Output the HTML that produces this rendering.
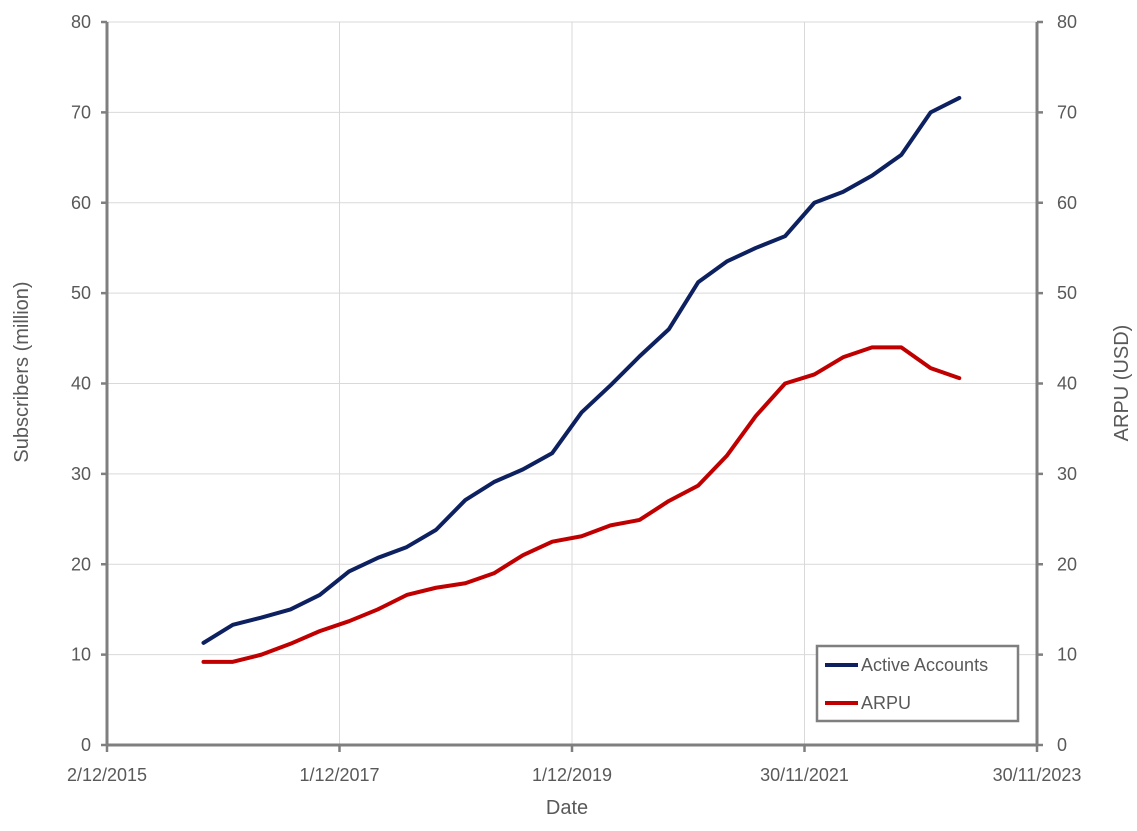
<!DOCTYPE html>
<html><head><meta charset="utf-8"><style>
body{margin:0;background:#fff}
svg text{font-family:"Liberation Sans",sans-serif;fill:#595959}
</style></head><body>
<svg id="chart" width="1137" height="826" xmlns="http://www.w3.org/2000/svg">
<g id="grid"></g><g id="axes"></g><g id="series"></g>
<g>
<rect x="817" y="646" width="201" height="75" fill="#fff" stroke="#7f7f7f" stroke-width="2.5"/>
<line x1="825" y1="665" x2="858" y2="665" stroke="#0d2060" stroke-width="4"/>
<text x="861" y="671" font-size="18">Active Accounts</text>
<line x1="825" y1="703" x2="858" y2="703" stroke="#c00000" stroke-width="4"/>
<text x="861" y="709" font-size="18">ARPU</text>
</g>
<text x="567" y="814" font-size="20" text-anchor="middle">Date</text>
<text transform="translate(28,372) rotate(-90)" font-size="20" text-anchor="middle">Subscribers (million)</text>
<text transform="translate(1128,383) rotate(-90)" font-size="20" text-anchor="middle">ARPU (USD)</text>
</svg>
<script>
const dates=["2016-09-30","2016-12-31","2017-03-31","2017-06-30","2017-09-30","2017-12-31","2018-03-31","2018-06-30","2018-09-30","2018-12-31","2019-03-31","2019-06-30","2019-09-30","2019-12-31","2020-03-31","2020-06-30","2020-09-30","2020-12-31","2021-03-31","2021-06-30","2021-09-30","2021-12-31","2022-03-31","2022-06-30","2022-09-30","2022-12-31","2023-03-31"];
const activeAccounts=[11.3,13.3,14.1,15.0,16.6,19.2,20.7,21.9,23.8,27.1,29.1,30.5,32.3,36.8,39.8,43.0,46.0,51.2,53.5,55.0,56.3,60.0,61.2,63.0,65.3,70.0,71.6];
const arpu=[9.2,9.2,10.0,11.2,12.6,13.7,15.0,16.6,17.4,17.9,19.0,21.0,22.5,23.1,24.3,24.9,27.0,28.7,32.0,36.4,40.0,41.0,42.9,44.0,44.0,41.7,40.6];
const xTicks=["2015-12-02","2017-12-01","2019-12-01","2021-11-30","2023-11-30"];
const xTickLabels=["2/12/2015","1/12/2017","1/12/2019","30/11/2021","30/11/2023"];
const yTicks=[0,10,20,30,40,50,60,70,80];
const NS="http://www.w3.org/2000/svg";
const L=107,R=1037,T=22,B=745;
const t0=Date.parse(xTicks[0]),t1=Date.parse(xTicks[xTicks.length-1]);
const xs=d=>L+(Date.parse(d)-t0)/(t1-t0)*(R-L);
const ys=v=>B-v/80*(B-T);
function mk(tag,attrs,parent){const e=document.createElementNS(NS,tag);for(const k in attrs)e.setAttribute(k,attrs[k]);document.getElementById(parent).appendChild(e);return e;}
yTicks.forEach(v=>{
 const g=mk("line",{x1:L,x2:R,y1:ys(v),y2:ys(v),stroke:"#d9d9d9","stroke-width":1},"grid");
 
 
 const a=mk("line",{x1:L-6,x2:L,y1:ys(v),y2:ys(v),stroke:"#7f7f7f","stroke-width":2.5},"axes");
 
 
 const b=mk("line",{x1:R,x2:R+6,y1:ys(v),y2:ys(v),stroke:"#7f7f7f","stroke-width":2.5},"axes");
 
 
 const t=mk("text",{x:L-16,y:ys(v)+6,"font-size":18,"text-anchor":"end"},"axes");t.textContent=v;
 
 
 const t2=mk("text",{x:R+20,y:ys(v)+6,"font-size":18},"axes");t2.textContent=v;
 
 
});
xTicks.forEach((d,i)=>{
 const x=xs(d);
 if(i>0&&i<xTicks.length-1){const g=mk("line",{x1:x,x2:x,y1:T,y2:B,stroke:"#d9d9d9","stroke-width":1},"grid");
 
 }
 const k=mk("line",{x1:x,x2:x,y1:B,y2:B+7,stroke:"#7f7f7f","stroke-width":2.5},"axes");
 
 
 const t=mk("text",{x:x,y:B+36,"font-size":18,"text-anchor":"middle"},"axes");t.textContent=xTickLabels[i];
 
 
});
[[L,T,L,B,'y-axis-left'],[R,T,R,B,'y-axis-right'],[L,B,R,B,'x-axis']].forEach(a=>{
 const l=mk("line",{x1:a[0],y1:a[1],x2:a[2],y2:a[3],stroke:"#7f7f7f","stroke-width":3},"axes");
 
 
});
function line(vals,color,name){
 const p=mk("polyline",{points:vals.map((v,i)=>xs(dates[i])+","+ys(v)).join(" "),fill:"none",stroke:color,"stroke-width":4,"stroke-linejoin":"round","stroke-linecap":"round"},"series");
 
 
}
line(arpu,"#c00000","arpu-line");
line(activeAccounts,"#0d2060","active-accounts-line");
</script>
</body></html>
